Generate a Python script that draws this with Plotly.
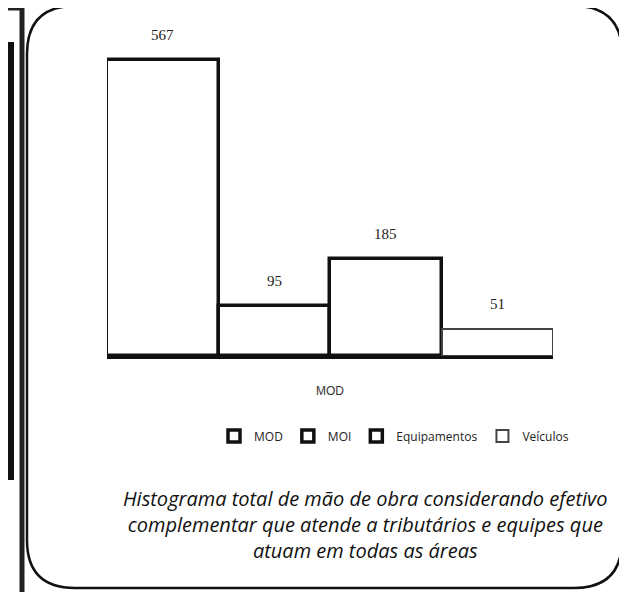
import plotly.graph_objects as go

# ── dados ─────────────────────────────────────────────
categoria = ["MOD"]
series = ["MOD", "MOI", "Equipamentos", "Veículos"]
valores = [567, 95, 185, 51]
legenda_txt = "Histograma total de mão de obra considerando efetivo<br>" \
              "complementar que atende a tributários e equipes que<br>" \
              "atuam em todas as áreas"

W, H = 627, 592
OFF = 8                       # margem do <body> na página
L, R, T, B = 99, 82, 35, 244  # área do gráfico em coordenadas da figura
PW, PH = W - L - R, H - T - B


# posições de tela (pixels da imagem) -> coordenadas "paper"
def px(x):
    return (x - OFF - L) / PW


def py(y):
    return (H - B - (y - OFF)) / PH


fig = go.Figure()
for i, (nome, v) in enumerate(zip(series, valores)):
    fig.add_trace(go.Bar(
        name=nome, x=categoria, y=[v],
        marker=dict(color="white",
                    line=dict(color="#111" if i < 3 else "#444",
                              width=3.5 if i < 3 else 2)),
    ))

# rótulos de valor acima das barras
n = len(series)
for i, v in enumerate(valores):
    fig.add_annotation(x=-0.5 + (i + 0.5) / n, y=v, xref="x", yref="y",
                       text=str(v), showarrow=False, yshift=25,
                       font=dict(family="Liberation Serif", size=15, color="#222"))

# texto explicativo
fig.add_annotation(x=px(365), y=py(524), xref="paper", yref="paper",
                   xanchor="center", yanchor="middle",
                   text=legenda_txt, showarrow=False, align="center",
                   font=dict(family="Open Sans", size=20, color="#111",
                             style="italic"))

# caixa arredondada
x0, x1, y0, y1, r = 27, 622, 6, 588, 48
path = (f"M {px(x0 + r)},{py(y0)} L {px(x1 - r)},{py(y0)} "
        f"Q {px(x1)},{py(y0)} {px(x1)},{py(y0 + r)} L {px(x1)},{py(y1 - r)} "
        f"Q {px(x1)},{py(y1)} {px(x1 - r)},{py(y1)} L {px(x0 + r)},{py(y1)} "
        f"Q {px(x0)},{py(y1)} {px(x0)},{py(y1 - r)} L {px(x0)},{py(y0 + r)} "
        f"Q {px(x0)},{py(y0)} {px(x0 + r)},{py(y0)} Z")
fig.add_shape(type="path", path=path, xref="paper", yref="paper",
              line=dict(color="#111", width=2.5))

# restos da página digitalizada à esquerda
fig.add_shape(type="rect", xref="paper", yref="paper",
              x0=px(0), x1=px(14), y0=py(42), y1=py(480),
              fillcolor="#111", line=dict(width=0))
fig.add_shape(type="line", xref="paper", yref="paper",
              x0=px(22), x1=px(22), y0=py(0), y1=py(600),
              line=dict(color="#222", width=5))
fig.add_shape(type="line", xref="paper", yref="paper",
              x0=px(0), x1=px(22), y0=py(9), y1=py(9),
              line=dict(color="#222", width=3))

fig.update_layout(
    width=W, height=H,
    margin=dict(l=L, r=R, t=T, b=B),
    barmode="group", bargap=0, bargroupgap=0,
    plot_bgcolor="white", paper_bgcolor="white",
    font=dict(family="Liberation Sans", color="#222"),
    showlegend=True,
    legend=dict(orientation="h", x=px(214), xanchor="left",
                y=py(436), yanchor="middle", itemwidth=30,
                font=dict(family="Open Sans", size=12, color="#222"),
                bgcolor="rgba(0,0,0,0)"),
    xaxis=dict(range=[-0.5, 0.5], showline=True, linecolor="#111",
               linewidth=3, ticks="", ticklabelstandoff=22,
               tickfont=dict(family="Liberation Sans", size=12, color="#333"),
               showgrid=False),
    yaxis=dict(range=[0, 600], visible=False),
)

fig.write_html("out.html")
